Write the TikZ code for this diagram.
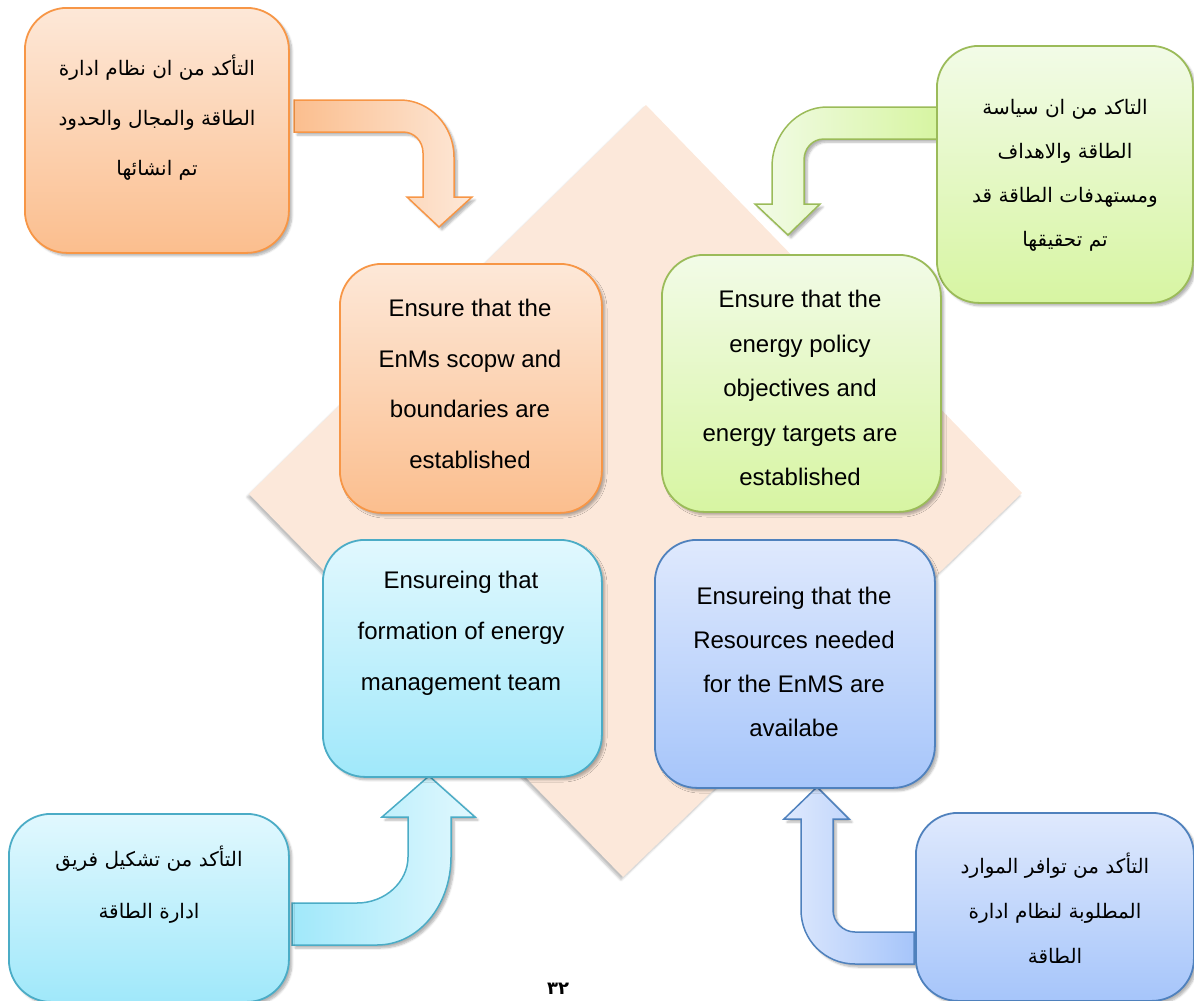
\documentclass[tikz,border=0pt]{standalone}
\usepackage{fontspec}
\setmainfont{Liberation Sans}
\newfontfamily\arabicfont[Script=Arabic]{DejaVu Sans}
\TeXXeTstate=1
\usetikzlibrary{shadows.blur}

\definecolor{orB}{RGB}{247,150,70}
\definecolor{orT}{RGB}{253,232,216}
\definecolor{orBot}{RGB}{251,190,142}
\definecolor{grB}{RGB}{155,187,89}
\definecolor{grT}{RGB}{242,251,231}
\definecolor{grBot}{RGB}{215,245,162}
\definecolor{cyB}{RGB}{75,172,198}
\definecolor{cyT}{RGB}{225,248,254}
\definecolor{cyBot}{RGB}{160,232,250}
\definecolor{blB}{RGB}{79,129,189}
\definecolor{blT}{RGB}{223,233,253}
\definecolor{blBot}{RGB}{166,197,250}
\definecolor{diam}{RGB}{252,232,218}

\begin{document}
\begin{tikzpicture}[x=1pt,y=-1pt,
  shad/.style={blur shadow={shadow xshift=3pt, shadow yshift=-3pt, shadow blur steps=6, shadow opacity=30}},
  card/.style={rectangle, rounded corners=42pt, line width=1.8pt, anchor=north west, inner sep=0pt, shad},
  barrow/.style={line width=1.5pt, line join=miter, shad},
  en/.style={align=center, inner sep=0pt},
  ar/.style={align=center, inner sep=0pt}
]
\useasboundingbox (0,0) rectangle (1194,1001);
\clip (0,0) rectangle (1194,1001);

% background diamond
\fill[diam, blur shadow={shadow xshift=-2pt, shadow yshift=-3pt, shadow blur steps=5, shadow opacity=25}]
  (646,105) -- (1022,493) -- (623,877) -- (249,494) -- cycle;

% bent arrows
\draw[barrow, draw=orB, left color=orBot, right color=orT]
  (294,100) -- (400,100) .. controls (430,100) and (454,126) .. (454,157)
  -- (454,197) -- (472,197) -- (439,227) -- (407,197) -- (423,197)
  -- (423,153) .. controls (423,141) and (414,132) .. (403,132)
  -- (294,132) -- cycle;

\draw[barrow, draw=grB, left color=grT, right color=grBot]
  (937,107) -- (827,107) .. controls (797,107) and (772,134) .. (772,167)
  -- (772,204) -- (755,204) -- (788,235) -- (820,204) -- (804,204)
  -- (804,160) .. controls (804,149) and (812,139) .. (824,139)
  -- (937,139) -- cycle;

\draw[barrow, draw=cyB, left color=cyBot, right color=cyT]
  (292,903) -- (357,903) .. controls (385,903) and (408,882) .. (408,857)
  -- (408,817) -- (382,817) -- (429,776) -- (475,817) -- (451,817)
  -- (451,857) .. controls (451,906) and (418,945) .. (377,945)
  -- (292,945) -- cycle;

\draw[barrow, draw=blB, left color=blT, right color=blBot]
  (914,932) -- (855,932) .. controls (843,932) and (833,922) .. (833,910)
  -- (833,819) -- (849,819) -- (817,787) -- (784,819) -- (801,819)
  -- (801,910) .. controls (801,940) and (825,964) .. (855,964)
  -- (914,964) -- cycle;

% Arabic boxes
\node[card, draw=orB, top color=orT, bottom color=orBot, minimum width=264pt, minimum height=245pt] (a1) at (24,7) {};
\node[card, draw=grB, top color=grT, bottom color=grBot, minimum width=256pt, minimum height=257pt] (a2) at (936,45) {};
\node[card, draw=cyB, top color=cyT, bottom color=cyBot, minimum width=280pt, minimum height=188pt] (a3) at (8,813) {};
\node[card, draw=blB, top color=blT, bottom color=blBot, minimum width=278pt, minimum height=188pt] (a4) at (915,812) {};

% English boxes
\node[card, draw=orB, top color=orT, bottom color=orBot, minimum width=262pt, minimum height=249pt] (e1) at (339,263) {};
\node[card, draw=grB, top color=grT, bottom color=grBot, minimum width=279pt, minimum height=257pt] (e2) at (661,254) {};
\node[card, draw=cyB, top color=cyT, bottom color=cyBot, minimum width=279pt, minimum height=237pt] (e3) at (322,539) {};
\node[card, draw=blB, top color=blT, bottom color=blBot, minimum width=280pt, minimum height=248pt] (e4) at (654,539) {};

% English texts
\node[en, font=\fontsize{24}{50.5}\selectfont] (t1) at (470,384) {Ensure that the\\EnMs scopw and\\boundaries are\\established};
\node[en, font=\fontsize{24}{44.5}\selectfont] (t2) at (800,388) {Ensure that the\\energy policy\\objectives and\\energy targets are\\established};
\node[en, font=\fontsize{24}{51}\selectfont] (t3) at (461,633) {Ensureing that\\formation of energy\\management team};
\node[en, font=\fontsize{24}{44}\selectfont] (t4) at (794,662) {Ensureing that the\\Resources needed\\for the EnMS are\\availabe};

% Arabic texts
\node[ar, font=\arabicfont\fontsize{20}{50}\selectfont] (s1) at (157,118)
  {\beginR التأكد من ان نظام ادارة\endR\\\beginR الطاقة والمجال والحدود\endR\\\beginR تم انشائها\endR};
\node[ar, font=\arabicfont\fontsize{20}{44}\selectfont] (s2) at (1065,175)
  {\beginR التاكد من ان سياسة\endR\\\beginR الطاقة والاهداف\endR\\\beginR ومستهدفات الطاقة قد\endR\\\beginR تم تحقيقها\endR};
\node[ar, font=\arabicfont\fontsize{20}{52}\selectfont] (s3) at (149,885)
  {\beginR التأكد من تشكيل فريق\endR\\\beginR ادارة الطاقة\endR};
\node[ar, font=\arabicfont\fontsize{20}{45}\selectfont] (s4) at (1055,908)
  {\beginR التأكد من توافر الموارد\endR\\\beginR المطلوبة لنظام ادارة\endR\\\beginR الطاقة\endR};

% page number
\node[font=\arabicfont\bfseries\fontsize{18}{22}\selectfont, anchor=base, inner sep=0pt] (pg) at (558,994) {٣٢};
\end{tikzpicture}
\end{document}
